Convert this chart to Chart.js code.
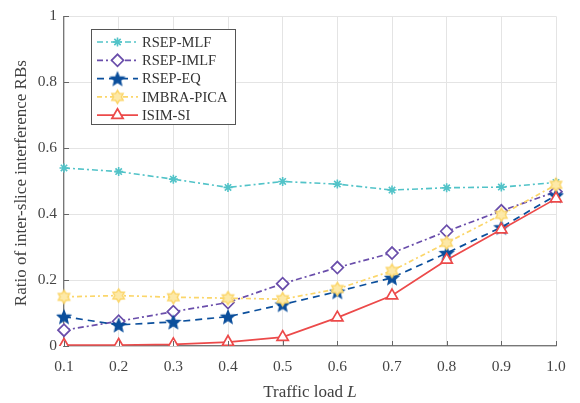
<!DOCTYPE html>
<html>
<head>
<meta charset="utf-8">
<script src="https://cdn.jsdelivr.net/npm/chart.js@4"></script>
<style>
  html, body { margin: 0; padding: 0; background: #fff; }
  #wrap { width: 580px; height: 403px; }
</style>
</head>
<body>
<div id="wrap"><canvas id="ratioChart" width="580" height="403"></canvas></div>
<script>
const loads = ['0.1', '0.2', '0.3', '0.4', '0.5', '0.6', '0.7', '0.8', '0.9', '1.0'];
const yTicks = [0, 0.2, 0.4, 0.6, 0.8, 1];

const rsepMlf = [0.540, 0.529, 0.506, 0.481, 0.499, 0.491, 0.473, 0.480, 0.482, 0.496];
const rsepImlf = [0.048, 0.075, 0.104, 0.132, 0.189, 0.238, 0.282, 0.348, 0.410, 0.468];
const rsepEq = [0.089, 0.064, 0.073, 0.089, 0.126, 0.165, 0.207, 0.282, 0.360, 0.457];
const imbraPica = [0.149, 0.153, 0.148, 0.145, 0.142, 0.173, 0.228, 0.313, 0.398, 0.489];
const isimSi = [0.003, 0.003, 0.005, 0.012, 0.027, 0.086, 0.153, 0.261, 0.353, 0.447];

const SERIF = '"Liberation Serif", "Times New Roman", serif';

function starMarker(r, fill, stroke) {
    const s = Math.ceil(r * 2 + 4);
    const c = document.createElement('canvas');
    c.width = s; c.height = s;
    const g = c.getContext('2d');
    g.translate(s / 2, s / 2 + r * 0.1);
    g.beginPath();
    for (let i = 0; i < 10; i++) {
        const a = -Math.PI / 2 + i * Math.PI / 5;
        const rr = i % 2 === 0 ? r : r * 0.45;
        g.lineTo(Math.cos(a) * rr, Math.sin(a) * rr);
    }
    g.closePath();
    g.fillStyle = fill;
    g.fill();
    g.strokeStyle = stroke;
    g.lineWidth = 1.2;
    g.stroke();
    return c;
}

function hexMarker(r, fill, stroke) {
    const s = Math.ceil(r * 2 + 4);
    const c = document.createElement('canvas');
    c.width = s; c.height = s;
    const g = c.getContext('2d');
    g.translate(s / 2, s / 2);
    g.beginPath();
    for (let i = 0; i < 12; i++) {
        const a = -Math.PI / 2 + i * Math.PI / 6;
        const rr = i % 2 === 0 ? r : r * 0.6;
        g.lineTo(Math.cos(a) * rr, Math.sin(a) * rr);
    }
    g.closePath();
    g.fillStyle = fill;
    g.fill();
    g.strokeStyle = stroke;
    g.lineWidth = 1.5;
    g.stroke();
    return c;
}

const blueStar = starMarker(7, '#0b4f9c', '#0b4f9c');
const yellowHex = hexMarker(6.5, '#fde9a8', '#fbd66a');

const series = [
    { label: 'RSEP-MLF', data: rsepMlf, color: '#52c3c8', dash: [6, 3, 2, 3], style: 'star', radius: 4.5, fill: '#52c3c8', width: 1.6 },
    { label: 'RSEP-IMLF', data: rsepImlf, color: '#6a4eab', dash: [6, 3, 2, 3], style: 'rectRot', radius: 6, fill: '#ffffff', width: 1.7 },
    { label: 'RSEP-EQ', data: rsepEq, color: '#0b4f9c', dash: [7, 5], style: blueStar, radius: 6, fill: '#0b4f9c', width: 1.7 },
    { label: 'IMBRA-PICA', data: imbraPica, color: '#fbd66a', dash: [5, 3, 2, 3], style: yellowHex, radius: 6, fill: '#fde9a8', width: 1.7 },
    { label: 'ISIM-SI', data: isimSi, color: '#ec4a4a', dash: [], style: 'triangle', radius: 6.5, fill: '#ffffff', width: 1.7 }
];

const frame = {
    id: 'frame',
    afterDraw(chart) {
        const ctx = chart.ctx;
        const a = chart.chartArea;
        const xs = chart.scales.x;
        const ys = chart.scales.y;
        ctx.save();

        // inward ticks on the left and bottom axes
        ctx.strokeStyle = '#666';
        ctx.lineWidth = 1;
        ctx.beginPath();
        loads.forEach((_, i) => {
            const x = Math.round(xs.getPixelForValue(i)) + 0.5;
            ctx.moveTo(x, a.bottom);
            ctx.lineTo(x, a.bottom - 5);
        });
        yTicks.forEach(v => {
            const y = Math.round(ys.getPixelForValue(v)) + 0.5;
            ctx.moveTo(a.left, y);
            ctx.lineTo(a.left + 5, y);
        });
        ctx.stroke();

        // axis titles
        ctx.fillStyle = '#404040';
        ctx.textBaseline = 'middle';
        const plain = '17px ' + SERIF;
        const ital = 'italic 17px ' + SERIF;
        ctx.font = plain;
        const w1 = ctx.measureText('Traffic load ').width;
        ctx.font = ital;
        const w2 = ctx.measureText('L').width;
        let x0 = (a.left + a.right) / 2 - (w1 + w2) / 2;
        ctx.textAlign = 'left';
        ctx.font = plain;
        ctx.fillText('Traffic load ', x0, 393);
        ctx.font = ital;
        ctx.fillText('L', x0 + w1, 393);

        ctx.translate(22, (a.top + a.bottom) / 2 + 2);
        ctx.rotate(-Math.PI / 2);
        ctx.textAlign = 'center';
        ctx.font = plain;
        ctx.fillText('Ratio of inter-slice interference RBs', 0, 0);
        ctx.restore();

        // legend box
        ctx.save();
        const bx = 91.5, by = 29.5, bw = 144, bh = 95;
        ctx.fillStyle = '#fff';
        ctx.fillRect(bx, by, bw, bh);
        ctx.strokeStyle = '#555';
        ctx.lineWidth = 1;
        ctx.strokeRect(bx, by, bw, bh);
        ctx.font = '14.5px ' + SERIF;
        ctx.textAlign = 'left';
        ctx.textBaseline = 'middle';
        series.forEach((s, i) => {
            const y = 42 + i * 18.3;
            ctx.strokeStyle = s.color;
            ctx.lineWidth = s.width;
            ctx.setLineDash(s.dash);
            ctx.beginPath();
            ctx.moveTo(97, y);
            ctx.lineTo(138, y);
            ctx.stroke();
            ctx.setLineDash([]);
            ctx.fillStyle = s.fill;
            Chart.helpers.drawPoint(ctx, {
                pointStyle: s.style, radius: s.radius, rotation: 0, borderWidth: s.width
            }, 117.5, y);
            ctx.fillStyle = '#333';
            ctx.fillText(s.label, 142, y + 1);
        });
        ctx.restore();
    }
};

new Chart(document.getElementById('ratioChart'), {
    type: 'line',
    data: {
        labels: loads,
        datasets: series.map(s => ({
            label: s.label,
            data: s.data,
            borderColor: s.color,
            borderWidth: s.width,
            borderDash: s.dash,
            pointStyle: s.style,
            pointRadius: s.radius,
            pointBorderColor: s.color,
            pointBackgroundColor: s.fill,
            pointBorderWidth: s.width,
            tension: 0,
            fill: false
        })).reverse()
    },
    options: {
        responsive: false,
        animation: false,
        layout: { padding: { top: 5, right: 24, left: 0, bottom: 0 } },
        plugins: {
            legend: { display: false },
            tooltip: { enabled: false }
        },
        scales: {
            x: {
                type: 'category',
                offset: false,
                grid: { color: '#e4e4e4', drawTicks: false },
                border: { color: '#777', width: 1.2 },
                ticks: {
                    color: '#454545',
                    font: { family: SERIF, size: 15.5 },
                    padding: 12,
                    maxRotation: 0,
                    autoSkip: false
                },
                afterFit(scale) { scale.height = 57; }
            },
            y: {
                min: 0,
                max: 1,
                grid: { color: '#e4e4e4', drawTicks: false },
                border: { color: '#777', width: 1.2 },
                ticks: {
                    stepSize: 0.2,
                    color: '#454545',
                    font: { family: SERIF, size: 15.5 },
                    padding: 7,
                    callback: v => (v === 0 || v === 1) ? String(v) : v.toFixed(1)
                },
                afterFit(scale) { scale.width = 64; }
            }
        }
    },
    plugins: [frame]
});
</script>
</body>
</html>
